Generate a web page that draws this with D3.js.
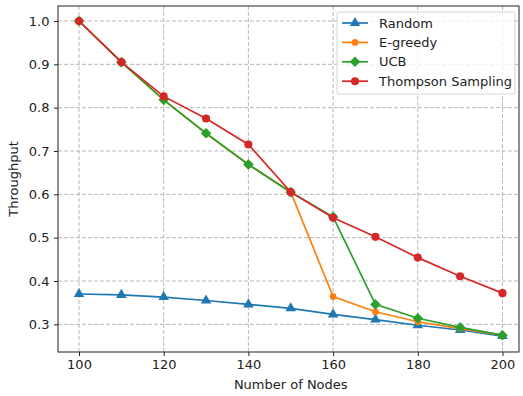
<!DOCTYPE html>
<html>
<head>
<meta charset="utf-8">
<script src="https://cdn.jsdelivr.net/npm/d3@7"></script>
<style>
  body { margin: 0; background: #fff; }
  text { font-family: "DejaVu Sans", sans-serif; }
</style>
</head>
<body>
<div id="chart"></div>
<script>
// data
const nodes = [100, 110, 120, 130, 140, 150, 160, 170, 180, 190, 200];
const random = [0.370, 0.368, 0.363, 0.355, 0.346, 0.337, 0.323, 0.311, 0.298, 0.287, 0.273];
const egreedy = [1.0, 0.905, 0.818, 0.740, 0.669, 0.605, 0.364, 0.329, 0.306, 0.290, 0.275];
const ucb = [1.0, 0.905, 0.818, 0.741, 0.669, 0.605, 0.548, 0.346, 0.314, 0.293, 0.275];
const thompson = [1.0, 0.905, 0.826, 0.775, 0.715, 0.605, 0.546, 0.502, 0.454, 0.411, 0.372];
const yTicks = [0.3, 0.4, 0.5, 0.6, 0.7, 0.8, 0.9, 1.0];
const xTicks = [100, 120, 140, 160, 180, 200];

const series = [
  { name: "Random", values: random, color: "#1f77b4", marker: "triangle" },
  { name: "E-greedy", values: egreedy, color: "#ff7f0e", marker: "circleSmall" },
  { name: "UCB", values: ucb, color: "#2ca02c", marker: "diamond" },
  { name: "Thompson Sampling", values: thompson, color: "#d62728", marker: "circle" },
];

const W = 523, H = 396;
const margin = { top: 6, right: 4, bottom: 44, left: 58 };
const width = W - margin.left - margin.right;
const height = H - margin.top - margin.bottom;
const fs = "13px";

const svg = d3.select("#chart").append("svg")
  .attr("width", W).attr("height", H);
const g = svg.append("g")
  .attr("transform", "translate(" + margin.left + "," + margin.top + ")");

const x = d3.scaleLinear().domain([95.04, 203.9]).range([0, width]);
const y = d3.scaleLinear().domain([0.2362, 1.0346]).range([height, 0]);

// grid
g.selectAll(".gx").data(xTicks).enter().append("line")
  .attr("x1", d => x(d)).attr("x2", d => x(d))
  .attr("y1", 0).attr("y2", height)
  .style("stroke", "#b0b0b0").style("stroke-width", 0.9)
  .style("stroke-dasharray", "4,2");
g.selectAll(".gy").data(yTicks).enter().append("line")
  .attr("y1", d => y(d)).attr("y2", d => y(d))
  .attr("x1", 0).attr("x2", width)
  .style("stroke", "#b0b0b0").style("stroke-width", 0.9)
  .style("stroke-dasharray", "4,2");

// axes
const xAxis = g.append("g")
  .attr("transform", "translate(0," + height + ")")
  .call(d3.axisBottom(x).tickValues(xTicks).tickSize(4).tickPadding(4).tickFormat(d3.format("d")));
const yAxis = g.append("g")
  .call(d3.axisLeft(y).tickValues(yTicks).tickSize(4).tickPadding(4.5).tickFormat(d3.format(".1f")));
[xAxis, yAxis].forEach(a => {
  a.select(".domain").remove();
  a.selectAll("text").style("font-size", fs).style("fill", "#222")
    .style("font-family", "DejaVu Sans, sans-serif");
  a.selectAll("line").style("stroke", "#222");
});

g.append("rect")
  .attr("width", width).attr("height", height)
  .style("fill", "none").style("stroke", "#222").style("stroke-width", 1);

// labels
svg.append("text")
  .attr("x", margin.left + x(150)).attr("y", 389)
  .attr("text-anchor", "middle").style("font-size", fs).style("fill", "#222")
  .text("Number of Nodes");
svg.append("text")
  .attr("transform", "translate(18," + (margin.top + height / 2) + ") rotate(-90)")
  .attr("text-anchor", "middle").style("font-size", fs).style("fill", "#222")
  .text("Throughput");

const line = d3.line()
  .x((d, i) => x(nodes[i]))
  .y(d => y(d));

// matplotlib-like square diamond
const diamondPath = r => "M0," + (-r) + "L" + r + ",0L0," + r + "L" + (-r) + ",0Z";
const symbols = {
  triangle: () => d3.symbol().type(d3.symbolTriangle).size(48)(),
  circleSmall: () => d3.symbol().type(d3.symbolCircle).size(36)(),
  diamond: () => diamondPath(5.3),
  circle: () => d3.symbol().type(d3.symbolCircle).size(52)(),
};

const plot = g.append("g");
series.forEach(s => {
  plot.append("path")
    .attr("d", line(s.values))
    .style("fill", "none").style("stroke", s.color).style("stroke-width", 1.7);
  plot.selectAll(null).data(s.values).enter().append("path")
    .attr("transform", (d, i) => "translate(" + x(nodes[i]) + "," + y(d) + ")")
    .attr("d", symbols[s.marker]())
    .style("fill", s.color);
});

// legend
const legend = g.append("g").attr("transform", "translate(279,6)");
legend.append("rect")
  .attr("width", 178).attr("height", 82).attr("rx", 2)
  .style("fill", "#fff").style("fill-opacity", 0.8)
  .style("stroke", "#ccc").style("stroke-width", 0.8);
series.forEach((s, i) => {
  const ly = 11 + i * 19.4;
  legend.append("line")
    .attr("x1", 5).attr("x2", 31).attr("y1", ly).attr("y2", ly)
    .style("stroke", s.color).style("stroke-width", 1.7);
  legend.append("path")
    .attr("transform", "translate(18," + ly + ")")
    .attr("d", symbols[s.marker]())
    .style("fill", s.color);
  legend.append("text")
    .attr("x", 42).attr("y", ly).attr("dy", "0.35em")
    .style("font-size", fs).style("fill", "#222")
    .text(s.name);
});
</script>
</body>
</html>
